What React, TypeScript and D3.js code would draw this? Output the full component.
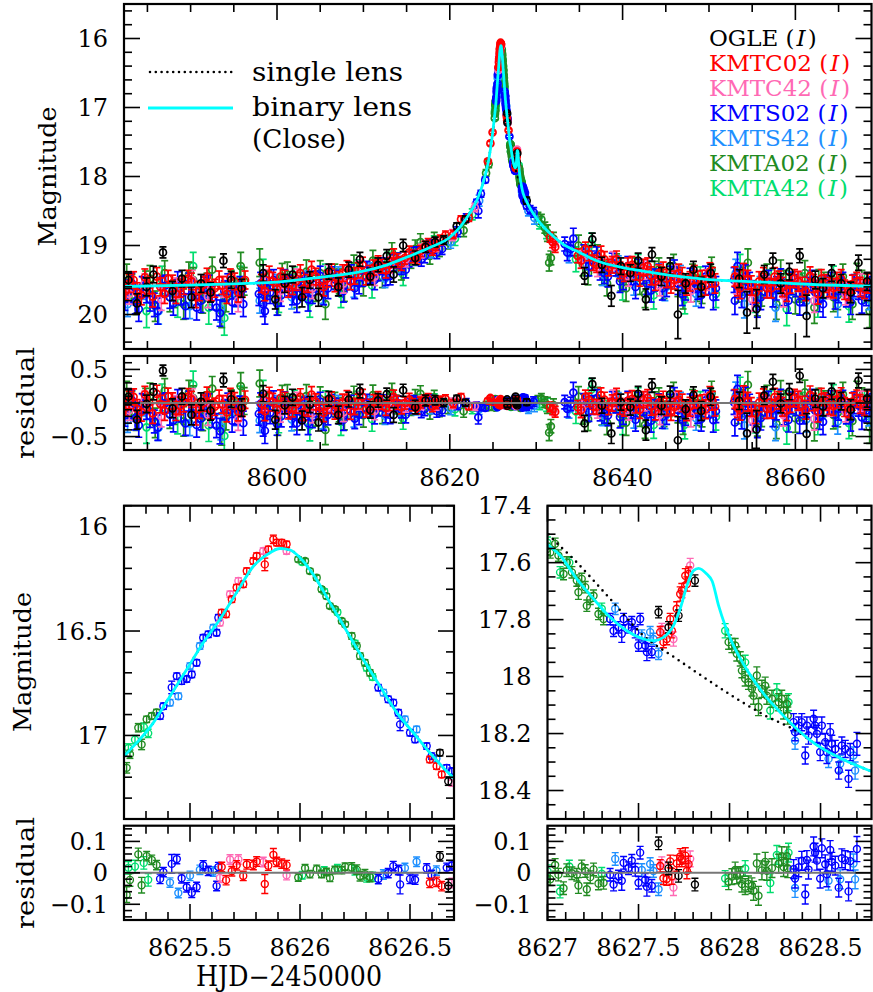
import React, { useRef, useEffect } from "react";
import * as d3 from "d3";

// [HJD-2450000, I magnitude, error]
const ogle = [
  [8582.8, 19.5, 0.12], [8583.8, 19.84, 0.14], [8584.9, 19.6, 0.13], [8585.7, 19.42, 0.12], [8586.8, 19.1, 0.08],
  [8587.9, 19.66, 0.14], [8589.0, 19.48, 0.12], [8590.1, 19.75, 0.15], [8591.2, 19.55, 0.13], [8592.3, 19.68, 0.14],
  [8593.8, 19.22, 0.1], [8594.7, 19.5, 0.12], [8595.9, 19.62, 0.13], [8598.4, 19.4, 0.12], [8599.8, 19.78, 0.14],
  [8600.9, 19.55, 0.13], [8601.8, 19.42, 0.12], [8602.9, 19.75, 0.14], [8603.8, 19.5, 0.12], [8604.8, 19.75, 0.13],
  [8606.0, 19.38, 0.11], [8607.1, 19.6, 0.13], [8608.3, 19.35, 0.11], [8609.6, 19.2, 0.1], [8610.8, 19.45, 0.12],
  [8611.7, 19.28, 0.1], [8612.7, 19.15, 0.09], [8613.5, 19.42, 0.11], [8614.6, 19.0, 0.09], [8616.0, 19.18, 0.1],
  [8617.2, 19.02, 0.08], [8618.3, 18.95, 0.07], [8619.3, 18.92, 0.06], [8620.8, 18.72, 0.05], [8621.8, 18.62, 0.05],
  [8626.636, 17.083, 0.015], [8626.674, 17.219, 0.02], [8627.61, 17.774, 0.02], [8627.665, 17.827, 0.02],
  [8627.72, 17.786, 0.02], [8627.81, 17.663, 0.02], [8628.9, 18.35, 0.05],
  [8635.6, 19.44, 0.12], [8636.5, 18.91, 0.09], [8637.6, 19.28, 0.11], [8638.7, 19.73, 0.15], [8639.8, 19.3, 0.12],
  [8640.9, 19.4, 0.12], [8641.8, 19.22, 0.11], [8642.7, 19.78, 0.15], [8643.4, 19.13, 0.1], [8644.5, 19.45, 0.13],
  [8645.5, 19.3, 0.12], [8646.4, 20.0, 0.35], [8647.3, 19.55, 0.14], [8648.2, 19.35, 0.12], [8649.1, 19.6, 0.14],
  [8650.2, 19.4, 0.13], [8653.5, 19.48, 0.13], [8654.4, 19.97, 0.3], [8655.5, 19.92, 0.28], [8656.4, 19.42, 0.13],
  [8657.4, 19.22, 0.11], [8658.3, 19.55, 0.14], [8659.3, 19.38, 0.12], [8660.5, 19.15, 0.1], [8661.3, 20.02, 0.3],
  [8662.3, 19.5, 0.13], [8663.2, 19.62, 0.14], [8664.2, 19.4, 0.12], [8665.3, 19.55, 0.13], [8666.4, 19.68, 0.15],
  [8667.3, 19.25, 0.11], [8668.3, 19.52, 0.13],
];

const kmtc02 = [
  [8582.5, 19.66, 0.13], [8582.9, 19.55, 0.13], [8583.4, 19.5, 0.12], [8583.8, 19.68, 0.14], [8584.3, 19.72, 0.14],
  [8584.7, 19.46, 0.12], [8585.2, 19.58, 0.12], [8585.6, 19.74, 0.15], [8586.1, 19.45, 0.13], [8586.5, 19.6, 0.13],
  [8587.0, 19.7, 0.14], [8587.4, 19.48, 0.12], [8587.9, 19.55, 0.12], [8588.3, 19.7, 0.14], [8588.8, 19.62, 0.13],
  [8589.2, 19.58, 0.13], [8589.7, 19.48, 0.12], [8590.1, 19.52, 0.12], [8590.6, 19.75, 0.15], [8591.0, 19.66, 0.14],
  [8591.5, 19.57, 0.12], [8591.9, 19.45, 0.12], [8592.4, 19.66, 0.14], [8592.8, 19.62, 0.13], [8593.3, 19.5, 0.13],
  [8593.7, 19.58, 0.13], [8594.2, 19.7, 0.14], [8594.6, 19.46, 0.12], [8595.1, 19.52, 0.12], [8595.5, 19.68, 0.14],
  [8596.0, 19.62, 0.13], [8596.3, 19.5, 0.13], [8598.2, 19.55, 0.13], [8598.6, 19.66, 0.14], [8599.1, 19.42, 0.12],
  [8599.5, 19.52, 0.13], [8600.0, 19.63, 0.13], [8600.4, 19.45, 0.12], [8600.9, 19.48, 0.12], [8601.3, 19.62, 0.13],
  [8601.8, 19.58, 0.13], [8602.2, 19.52, 0.13], [8602.7, 19.4, 0.12], [8603.1, 19.62, 0.13], [8603.6, 19.55, 0.13],
  [8604.0, 19.35, 0.12], [8604.5, 19.45, 0.12], [8604.9, 19.58, 0.13], [8605.4, 19.6, 0.13], [8605.8, 19.48, 0.12],
  [8606.3, 19.38, 0.11], [8606.7, 19.55, 0.12], [8607.2, 19.5, 0.12], [8607.6, 19.4, 0.12], [8608.1, 19.33, 0.11],
  [8608.5, 19.52, 0.12], [8609.0, 19.44, 0.12], [8609.4, 19.36, 0.11], [8609.9, 19.28, 0.11], [8610.3, 19.46, 0.11],
  [8610.8, 19.4, 0.11], [8611.2, 19.32, 0.11], [8611.7, 19.25, 0.1], [8612.1, 19.3, 0.1], [8612.6, 19.36, 0.11],
  [8613.0, 19.28, 0.1], [8613.5, 19.15, 0.1], [8613.9, 19.22, 0.1], [8614.4, 19.26, 0.1], [8614.8, 19.18, 0.09],
  [8615.3, 19.1, 0.09], [8615.7, 19.16, 0.09], [8616.2, 19.18, 0.09], [8616.6, 19.08, 0.08], [8617.1, 19.02, 0.08],
  [8617.5, 18.98, 0.08], [8618.0, 19.06, 0.08], [8618.4, 19.0, 0.07], [8618.9, 18.92, 0.07],
  [8619.5, 18.85, 0.06], [8620.4, 18.84, 0.06], [8621.3, 18.62, 0.05], [8622.2, 18.6, 0.05], [8624.4, 17.78, 0.03],
  [8624.7, 17.52, 0.03], [8624.95, 17.36, 0.02],
  [8625.644, 16.412, 0.015], [8625.664, 16.42, 0.015], [8625.69, 16.348, 0.015], [8625.712, 16.292, 0.015],
  [8625.742, 16.276, 0.015], [8625.758, 16.213, 0.015], [8625.788, 16.165, 0.015], [8625.803, 16.141, 0.015],
  [8625.84, 16.181, 0.03], [8625.856, 16.109, 0.015], [8625.879, 16.061, 0.02], [8625.894, 16.077, 0.015],
  [8625.917, 16.077, 0.015], [8625.939, 16.085, 0.015], [8626.59, 17.115, 0.015], [8626.621, 17.147, 0.015],
  [8626.644, 17.187, 0.015], [8626.8, 17.33, 0.02],
  [8627.619, 17.844, 0.02], [8627.637, 17.879, 0.02], [8627.655, 17.868, 0.02], [8627.674, 17.798, 0.02],
  [8627.683, 17.839, 0.025], [8627.71, 17.762, 0.025], [8627.729, 17.71, 0.025], [8627.738, 17.698, 0.025],
  [8627.757, 17.646, 0.025], [8627.766, 17.675, 0.025], [8627.775, 17.64, 0.025],
  [8631.6, 18.88, 0.07], [8631.9, 18.95, 0.08], [8632.2, 19.02, 0.08], [8634.8, 19.15, 0.1], [8635.2, 19.22, 0.11],
  [8635.7, 19.05, 0.1], [8636.1, 19.12, 0.1], [8636.6, 19.25, 0.11], [8637.0, 19.28, 0.11], [8637.5, 19.12, 0.11],
  [8637.9, 19.2, 0.11], [8638.4, 19.32, 0.12], [8638.8, 19.28, 0.12], [8639.3, 19.2, 0.12], [8639.7, 19.36, 0.12],
  [8640.2, 19.4, 0.12], [8640.6, 19.3, 0.12], [8641.1, 19.28, 0.12], [8641.5, 19.38, 0.12], [8642.0, 19.46, 0.13],
  [8642.4, 19.32, 0.12], [8642.9, 19.3, 0.12], [8643.3, 19.44, 0.13], [8643.8, 19.52, 0.13], [8644.2, 19.4, 0.12],
  [8644.7, 19.36, 0.12], [8645.1, 19.48, 0.13], [8645.6, 19.55, 0.14], [8646.0, 19.5, 0.13], [8646.5, 19.4, 0.13],
  [8646.9, 19.45, 0.13], [8647.4, 19.58, 0.14], [8647.8, 19.52, 0.14], [8648.3, 19.42, 0.13], [8648.7, 19.5, 0.13],
  [8649.2, 19.5, 0.14], [8649.6, 19.58, 0.14], [8650.1, 19.38, 0.13], [8650.4, 19.46, 0.14], [8650.7, 19.55, 0.14],
  [8653.0, 19.45, 0.14], [8653.3, 19.58, 0.15], [8653.6, 19.62, 0.15], [8654.0, 19.4, 0.14], [8654.5, 19.5, 0.14],
  [8654.9, 19.58, 0.14], [8655.4, 19.68, 0.15], [8655.8, 19.52, 0.14], [8656.3, 19.45, 0.13], [8656.7, 19.62, 0.14],
  [8657.2, 19.62, 0.14], [8657.6, 19.45, 0.13], [8658.1, 19.5, 0.13], [8658.5, 19.6, 0.14], [8659.0, 19.66, 0.15],
  [8659.4, 19.55, 0.14], [8659.9, 19.48, 0.13], [8660.3, 19.52, 0.14], [8660.8, 19.6, 0.14], [8661.2, 19.66, 0.14],
  [8661.7, 19.44, 0.13], [8662.1, 19.55, 0.13], [8662.6, 19.7, 0.15], [8663.0, 19.48, 0.13], [8663.5, 19.55, 0.13],
  [8663.9, 19.6, 0.14], [8664.4, 19.62, 0.14], [8664.8, 19.52, 0.13], [8665.3, 19.48, 0.13], [8665.7, 19.64, 0.14],
  [8666.2, 19.66, 0.14], [8666.6, 19.56, 0.13], [8667.1, 19.52, 0.13], [8667.5, 19.6, 0.14], [8668.0, 19.63, 0.14],
  [8668.4, 19.55, 0.14],
];

const kmtc42 = [
  [8582.9, 19.7, 0.15], [8584.7, 19.55, 0.14], [8586.6, 19.78, 0.16], [8588.4, 19.62, 0.15], [8590.2, 19.5, 0.14],
  [8592.0, 19.74, 0.16], [8593.8, 19.6, 0.15], [8595.5, 19.8, 0.16], [8598.6, 19.5, 0.15], [8600.4, 19.66, 0.15],
  [8602.3, 19.48, 0.14], [8604.1, 19.62, 0.15], [8605.9, 19.42, 0.14], [8607.7, 19.55, 0.14], [8609.5, 19.35, 0.13],
  [8611.3, 19.45, 0.13], [8613.1, 19.28, 0.12], [8614.9, 19.2, 0.11], [8616.7, 19.08, 0.1], [8618.4, 19.0, 0.09],
  [8620.3, 18.85, 0.08], [8622.9, 18.45, 0.06],
  [8625.636, 16.46, 0.015], [8625.682, 16.324, 0.015], [8625.72, 16.26, 0.015], [8625.833, 16.117, 0.015],
  [8625.939, 16.117, 0.015], [8626.69, 17.227, 0.015],
  [8627.628, 17.833, 0.02], [8627.692, 17.868, 0.025], [8627.784, 17.61, 0.025],
  [8632.1, 18.98, 0.09], [8635.3, 19.2, 0.12], [8637.1, 19.32, 0.13], [8638.9, 19.22, 0.13], [8640.7, 19.45, 0.14],
  [8642.5, 19.35, 0.14], [8644.3, 19.58, 0.15], [8646.1, 19.42, 0.14], [8647.9, 19.66, 0.16], [8649.7, 19.5, 0.15],
  [8653.2, 19.55, 0.15], [8655.0, 19.78, 0.17], [8656.8, 19.6, 0.15], [8658.6, 19.72, 0.17], [8660.4, 19.52, 0.15],
  [8662.2, 19.8, 0.17], [8664.0, 19.62, 0.15], [8665.8, 19.7, 0.16], [8667.6, 19.56, 0.15],
];

const kmts02 = [
  [8582.4, 19.78, 0.16], [8582.8, 19.66, 0.16], [8583.2, 19.55, 0.15], [8583.6, 19.82, 0.17], [8584.0, 19.92, 0.18],
  [8584.4, 19.6, 0.15], [8584.9, 19.68, 0.15], [8585.3, 19.78, 0.17], [8585.8, 19.86, 0.17], [8586.2, 19.95, 0.19],
  [8586.7, 19.6, 0.15], [8587.1, 19.58, 0.15], [8587.6, 19.75, 0.16], [8588.0, 19.84, 0.17], [8588.5, 19.52, 0.14],
  [8588.9, 19.7, 0.16], [8589.4, 19.88, 0.18], [8589.8, 19.55, 0.15], [8590.3, 19.64, 0.15], [8590.7, 19.9, 0.18],
  [8591.2, 19.8, 0.17], [8591.6, 19.62, 0.16], [8592.1, 19.58, 0.15], [8592.5, 19.76, 0.17], [8593.0, 19.9, 0.18],
  [8593.4, 19.98, 0.19], [8593.9, 19.66, 0.15], [8594.3, 19.56, 0.15], [8594.8, 19.82, 0.17], [8595.2, 19.72, 0.16],
  [8595.7, 19.6, 0.15], [8596.1, 19.85, 0.18], [8597.9, 19.7, 0.17], [8598.1, 19.55, 0.16], [8598.4, 19.85, 0.18],
  [8598.6, 19.95, 0.19], [8598.8, 19.62, 0.16], [8599.2, 19.68, 0.16], [8599.6, 19.5, 0.15], [8600.0, 19.84, 0.17],
  [8600.5, 19.72, 0.16], [8600.9, 19.5, 0.15], [8601.4, 19.58, 0.15], [8601.8, 19.7, 0.16], [8602.3, 19.8, 0.17],
  [8602.7, 19.62, 0.16], [8603.2, 19.55, 0.15], [8603.6, 19.78, 0.17], [8604.1, 19.68, 0.16], [8604.5, 19.52, 0.15],
  [8605.0, 19.44, 0.14], [8605.4, 19.7, 0.16], [8605.9, 19.62, 0.15], [8606.3, 19.45, 0.14], [8606.8, 19.5, 0.14],
  [8607.2, 19.58, 0.15], [8607.7, 19.66, 0.16], [8608.1, 19.5, 0.14], [8608.6, 19.42, 0.14], [8609.0, 19.62, 0.15],
  [8609.5, 19.55, 0.15], [8609.9, 19.45, 0.14], [8610.4, 19.36, 0.13], [8610.8, 19.42, 0.13], [8611.3, 19.5, 0.14],
  [8611.7, 19.38, 0.13], [8612.2, 19.3, 0.12], [8612.6, 19.45, 0.13], [8613.1, 19.44, 0.13], [8613.5, 19.25, 0.12],
  [8614.0, 19.22, 0.11], [8614.4, 19.3, 0.12], [8614.9, 19.35, 0.12], [8615.3, 19.2, 0.11], [8615.8, 19.12, 0.1],
  [8616.2, 19.12, 0.1], [8616.7, 19.2, 0.1], [8617.1, 19.15, 0.1], [8617.6, 19.0, 0.09], [8618.0, 19.02, 0.09],
  [8618.5, 19.1, 0.09], [8619.1, 19.05, 0.08], [8620.9, 18.8, 0.07], [8621.9, 18.6, 0.06], [8623.1, 18.38, 0.05],
  [8623.3, 18.5, 0.1], [8623.6, 18.25, 0.05], [8624.1, 18.05, 0.04],
  [8625.364, 16.907, 0.015], [8625.379, 16.86, 0.015], [8625.417, 16.77, 0.03], [8625.44, 16.716, 0.015],
  [8625.462, 16.74, 0.015], [8625.485, 16.73, 0.015], [8625.508, 16.708, 0.015], [8625.53, 16.652, 0.015],
  [8625.56, 16.532, 0.015], [8625.583, 16.516, 0.015], [8625.621, 16.508, 0.015], [8625.629, 16.436, 0.015],
  [8626.356, 16.771, 0.015], [8626.401, 16.827, 0.015], [8626.424, 16.843, 0.015], [8626.447, 16.891, 0.015],
  [8626.455, 16.947, 0.03], [8626.5, 16.987, 0.015], [8626.523, 17.019, 0.015], [8626.576, 17.051, 0.015],
  [8626.598, 17.099, 0.015], [8626.667, 17.155, 0.015], [8626.69, 17.171, 0.015], [8626.9, 17.42, 0.02],
  [8627.344, 17.798, 0.02], [8627.363, 17.839, 0.02], [8627.39, 17.827, 0.02], [8627.408, 17.85, 0.03],
  [8627.418, 17.798, 0.02], [8627.445, 17.827, 0.02], [8627.463, 17.809, 0.02], [8627.482, 17.844, 0.02],
  [8627.5, 17.891, 0.02], [8627.509, 17.798, 0.02], [8627.537, 17.891, 0.02], [8627.546, 17.914, 0.03],
  [8627.573, 17.914, 0.02],
  [8628.352, 18.16, 0.03], [8628.36, 18.195, 0.03], [8628.38, 18.172, 0.03], [8628.397, 18.16, 0.03],
  [8628.416, 18.277, 0.03], [8628.425, 18.172, 0.03], [8628.434, 18.207, 0.03], [8628.462, 18.148, 0.03],
  [8628.47, 18.172, 0.03], [8628.48, 18.201, 0.03], [8628.498, 18.265, 0.03], [8628.507, 18.172, 0.03],
  [8628.526, 18.23, 0.03], [8628.535, 18.265, 0.04], [8628.553, 18.195, 0.03], [8628.562, 18.236, 0.03],
  [8628.581, 18.254, 0.03], [8628.6, 18.33, 0.03], [8628.617, 18.242, 0.03], [8628.636, 18.254, 0.03],
  [8628.654, 18.359, 0.03], [8628.663, 18.265, 0.03], [8628.7, 18.236, 0.04],
  [8628.9, 18.42, 0.05], [8629.3, 18.48, 0.06], [8629.7, 18.52, 0.07], [8633.3, 18.98, 0.1], [8633.6, 19.1, 0.12],
  [8634.0, 19.05, 0.1], [8634.3, 18.9, 0.15], [8635.5, 19.12, 0.13], [8636.1, 19.3, 0.14], [8636.5, 19.22, 0.14],
  [8637.0, 19.15, 0.13], [8637.4, 19.35, 0.15], [8637.9, 19.4, 0.15], [8638.3, 19.45, 0.15], [8638.8, 19.25, 0.14],
  [8639.2, 19.3, 0.14], [8639.7, 19.52, 0.16], [8640.1, 19.48, 0.16], [8640.6, 19.3, 0.14], [8641.0, 19.42, 0.15],
  [8641.5, 19.6, 0.17], [8641.9, 19.35, 0.15], [8642.4, 19.4, 0.15], [8642.8, 19.55, 0.16], [8643.3, 19.65, 0.17],
  [8643.7, 19.5, 0.16], [8644.2, 19.42, 0.15], [8644.6, 19.62, 0.17], [8645.1, 19.58, 0.16], [8645.5, 19.45, 0.15],
  [8646.0, 19.35, 0.14], [8646.4, 19.55, 0.16], [8646.9, 19.7, 0.17], [8647.3, 19.62, 0.17], [8647.8, 19.48, 0.15],
  [8648.2, 19.52, 0.16], [8648.7, 19.62, 0.16], [8649.1, 19.72, 0.18], [8649.6, 19.45, 0.15], [8650.0, 19.55, 0.16],
  [8650.5, 19.75, 0.18], [8650.8, 19.62, 0.17], [8652.9, 19.5, 0.18], [8653.0, 19.8, 0.2], [8653.3, 19.3, 0.2],
  [8653.8, 19.72, 0.18], [8654.2, 19.45, 0.17], [8654.7, 19.55, 0.16], [8655.1, 19.68, 0.17], [8655.6, 19.85, 0.19],
  [8656.0, 19.75, 0.18], [8656.5, 19.6, 0.16], [8656.9, 19.52, 0.16], [8657.4, 19.72, 0.17], [8657.8, 19.62, 0.17],
  [8658.3, 19.5, 0.16], [8658.7, 19.7, 0.17], [8659.2, 19.8, 0.18], [8659.6, 19.55, 0.16], [8660.1, 19.58, 0.16],
  [8660.5, 19.82, 0.19], [8661.0, 19.7, 0.17], [8661.4, 19.62, 0.16], [8661.9, 19.52, 0.16], [8662.3, 19.68, 0.17],
  [8662.8, 19.78, 0.18], [8663.2, 19.85, 0.19], [8663.7, 19.6, 0.16], [8664.1, 19.55, 0.16], [8664.6, 19.75, 0.17],
  [8665.0, 19.66, 0.17], [8665.5, 19.55, 0.16], [8665.9, 19.72, 0.17], [8666.4, 19.82, 0.18], [8666.8, 19.58, 0.16],
  [8667.3, 19.62, 0.16], [8667.7, 19.8, 0.18], [8668.2, 19.7, 0.17], [8668.6, 19.62, 0.17],
];

const kmts42 = [
  [8582.7, 19.85, 0.18], [8584.5, 19.62, 0.16], [8586.3, 19.95, 0.19], [8588.1, 19.7, 0.17], [8589.9, 19.88, 0.18],
  [8591.7, 19.6, 0.16], [8593.5, 19.92, 0.19], [8595.3, 19.72, 0.17], [8598.0, 19.8, 0.18], [8599.9, 19.58, 0.16],
  [8601.7, 19.75, 0.17], [8603.5, 19.52, 0.15], [8605.3, 19.68, 0.16], [8607.1, 19.45, 0.14], [8608.9, 19.6, 0.15],
  [8610.7, 19.38, 0.13], [8612.5, 19.48, 0.13], [8614.3, 19.28, 0.12], [8616.1, 19.18, 0.11], [8617.9, 19.08, 0.1],
  [8620.1, 18.95, 0.09], [8623.4, 18.35, 0.08],
  [8625.409, 16.843, 0.015], [8625.447, 16.812, 0.015], [8625.5, 16.668, 0.015], [8625.545, 16.572, 0.015],
  [8625.606, 16.484, 0.015], [8626.379, 16.795, 0.015], [8626.477, 16.923, 0.015], [8626.53, 16.971, 0.015],
  [8626.62, 17.11, 0.015],
  [8627.372, 17.762, 0.02], [8627.518, 17.856, 0.02], [8627.564, 17.844, 0.02], [8627.582, 17.868, 0.02],
  [8627.61, 17.92, 0.02], [8628.36, 18.225, 0.03], [8628.544, 18.289, 0.03], [8628.608, 18.306, 0.03],
  [8628.681, 18.277, 0.03], [8628.69, 18.33, 0.03],
  [8629.1, 18.5, 0.07], [8629.8, 18.6, 0.09], [8633.8, 19.12, 0.13], [8635.9, 19.2, 0.15], [8637.7, 19.42, 0.16],
  [8639.5, 19.3, 0.15], [8641.3, 19.55, 0.17], [8643.1, 19.38, 0.16], [8644.9, 19.62, 0.18], [8646.7, 19.45, 0.16],
  [8648.5, 19.7, 0.18], [8650.3, 19.52, 0.17], [8653.1, 19.4, 0.2], [8654.1, 19.85, 0.2], [8655.9, 19.62, 0.17],
  [8657.7, 19.9, 0.2], [8659.5, 19.55, 0.17], [8661.3, 19.8, 0.19], [8663.1, 19.62, 0.17], [8664.9, 19.85, 0.19],
  [8666.7, 19.6, 0.17], [8668.5, 19.75, 0.18],
];

const kmta02 = [
  [8582.6, 19.45, 0.18], [8583.2, 19.62, 0.2], [8583.7, 19.8, 0.2], [8584.8, 19.55, 0.18], [8585.3, 19.48, 0.19],
  [8585.9, 19.88, 0.22], [8587.0, 19.4, 0.18], [8587.6, 19.75, 0.21], [8588.1, 19.7, 0.2], [8589.2, 19.85, 0.22],
  [8589.8, 19.42, 0.18], [8590.3, 19.5, 0.18], [8591.4, 19.78, 0.2], [8591.9, 19.6, 0.2], [8592.5, 19.35, 0.18],
  [8593.6, 19.95, 0.24], [8594.1, 19.75, 0.21], [8594.7, 19.55, 0.19], [8595.8, 19.3, 0.2], [8596.2, 19.52, 0.2],
  [8598.0, 19.25, 0.2], [8598.5, 19.6, 0.2], [8599.0, 19.55, 0.19], [8600.1, 19.8, 0.21], [8600.6, 19.45, 0.19],
  [8601.2, 19.42, 0.18], [8602.3, 19.7, 0.2], [8602.8, 19.58, 0.19], [8603.4, 19.38, 0.17], [8604.5, 19.62, 0.19],
  [8605.0, 19.4, 0.18], [8605.6, 19.85, 0.22], [8606.7, 19.45, 0.18], [8607.2, 19.52, 0.18], [8607.8, 19.62, 0.19],
  [8608.9, 19.3, 0.16], [8609.4, 19.42, 0.17], [8610.0, 19.55, 0.18], [8611.1, 19.22, 0.15], [8611.6, 19.35, 0.16],
  [8612.2, 19.45, 0.16], [8613.3, 19.1, 0.14], [8613.8, 19.25, 0.14], [8614.4, 19.35, 0.15], [8615.5, 19.2, 0.13],
  [8616.0, 19.05, 0.13], [8616.6, 18.95, 0.12], [8617.7, 19.15, 0.12], [8618.2, 18.92, 0.11], [8618.8, 19.05, 0.11],
  [8619.8, 18.95, 0.1], [8621.6, 18.78, 0.09], [8624.2, 17.95, 0.05], [8624.5, 17.82, 0.05],
  [8625.212, 17.155, 0.025], [8625.227, 17.09, 0.02], [8625.265, 16.963, 0.02], [8625.28, 17.043, 0.025],
  [8625.303, 16.923, 0.015], [8625.326, 16.907, 0.015], [8625.348, 16.89, 0.015],
  [8625.992, 16.157, 0.012], [8626.023, 16.165, 0.012], [8626.045, 16.213, 0.012], [8626.076, 16.245, 0.012],
  [8626.098, 16.3, 0.012], [8626.12, 16.333, 0.012], [8626.136, 16.38, 0.012], [8626.159, 16.396, 0.012],
  [8626.19, 16.452, 0.012], [8626.205, 16.468, 0.012], [8626.235, 16.524, 0.015], [8626.258, 16.572, 0.015],
  [8626.273, 16.62, 0.015], [8626.295, 16.652, 0.015], [8626.318, 16.7, 0.015],
  [8626.996, 17.552, 0.02], [8627.015, 17.564, 0.02], [8627.042, 17.534, 0.02], [8627.06, 17.575, 0.02],
  [8627.088, 17.64, 0.02], [8627.106, 17.599, 0.02], [8627.134, 17.634, 0.02], [8627.161, 17.663, 0.02],
  [8627.17, 17.704, 0.025], [8627.188, 17.657, 0.02], [8627.207, 17.686, 0.02], [8627.216, 17.751, 0.02],
  [8627.235, 17.727, 0.02], [8627.253, 17.716, 0.02], [8627.28, 17.78, 0.02], [8627.308, 17.798, 0.02],
  [8627.995, 17.879, 0.025], [8628.013, 17.891, 0.025], [8628.031, 17.891, 0.025], [8628.04, 17.92, 0.025],
  [8628.059, 17.938, 0.025], [8628.068, 17.979, 0.025], [8628.086, 18.008, 0.025], [8628.104, 18.02, 0.025],
  [8628.123, 18.043, 0.025], [8628.132, 18.067, 0.03], [8628.15, 17.996, 0.03], [8628.159, 18.107, 0.03],
  [8628.178, 18.043, 0.03], [8628.196, 18.032, 0.03], [8628.205, 18.067, 0.03], [8628.233, 18.078, 0.03],
  [8628.27, 18.09, 0.03], [8628.287, 18.078, 0.03], [8628.297, 18.119, 0.03], [8628.315, 18.096, 0.03],
  [8628.32, 18.137, 0.03],
  [8630.2, 18.58, 0.06], [8630.6, 18.62, 0.07], [8631.0, 18.74, 0.08], [8631.3, 18.82, 0.12], [8631.5, 19.25, 0.12],
  [8631.7, 19.18, 0.1], [8632.0, 18.9, 0.09], [8634.9, 19.0, 0.15], [8635.4, 19.28, 0.16], [8636.0, 19.4, 0.17],
  [8637.1, 19.15, 0.16], [8637.6, 19.4, 0.17], [8638.2, 19.55, 0.18], [8639.3, 19.28, 0.16], [8639.8, 19.48, 0.18],
  [8640.4, 19.62, 0.19], [8641.5, 19.35, 0.17], [8642.0, 19.52, 0.19], [8642.6, 19.7, 0.2], [8643.7, 19.4, 0.17],
  [8644.2, 19.35, 0.17], [8644.8, 19.58, 0.19], [8645.9, 19.3, 0.17], [8646.4, 19.55, 0.19], [8647.0, 19.72, 0.2],
  [8648.1, 19.45, 0.18], [8648.6, 19.62, 0.19], [8649.2, 19.65, 0.19], [8650.3, 19.35, 0.18], [8653.4, 19.6, 0.22],
  [8653.9, 19.52, 0.2], [8654.5, 19.25, 0.2], [8655.6, 19.8, 0.22], [8656.1, 19.68, 0.2], [8656.7, 19.45, 0.18],
  [8657.8, 19.85, 0.22], [8658.3, 19.4, 0.19], [8658.9, 19.55, 0.19], [8660.0, 19.78, 0.21], [8660.5, 19.62, 0.2],
  [8661.1, 19.4, 0.18], [8662.2, 19.9, 0.23], [8662.7, 19.55, 0.2], [8663.3, 19.58, 0.19], [8664.4, 19.75, 0.21],
  [8664.9, 19.72, 0.21], [8665.5, 19.45, 0.18], [8666.6, 19.85, 0.22], [8667.1, 19.45, 0.19], [8667.7, 19.55, 0.19],
  [8668.6, 19.95, 0.24],
];

const kmta42 = [
  [8583.1, 19.6, 0.2], [8584.9, 19.95, 0.24], [8586.7, 19.5, 0.2], [8588.5, 19.82, 0.22], [8590.3, 19.3, 0.2],
  [8592.1, 19.9, 0.24], [8593.9, 20.05, 0.25], [8595.7, 19.5, 0.2], [8598.4, 19.4, 0.2], [8600.2, 19.75, 0.22],
  [8602.0, 19.5, 0.19], [8603.8, 19.82, 0.22], [8605.6, 19.45, 0.18], [8607.4, 19.7, 0.2], [8609.2, 19.38, 0.17],
  [8611.0, 19.58, 0.18], [8612.8, 19.25, 0.15], [8614.6, 19.42, 0.16], [8616.4, 19.1, 0.13], [8618.2, 18.98, 0.12],
  [8620.6, 18.9, 0.1], [8622.6, 18.55, 0.08],
  [8625.22, 17.06, 0.02], [8625.25, 17.02, 0.02], [8625.29, 16.96, 0.02], [8625.31, 16.99, 0.02],
  [8626.01, 16.17, 0.012], [8626.11, 16.31, 0.012], [8626.17, 16.41, 0.012], [8626.25, 16.56, 0.015],
  [8626.303, 16.676, 0.015], [8626.33, 16.72, 0.015],
  [8627.0, 17.53, 0.02], [8627.069, 17.634, 0.02], [8627.12, 17.6, 0.02], [8627.298, 17.762, 0.02],
  [8627.976, 17.839, 0.025], [8628.086, 17.95, 0.025], [8628.224, 18.119, 0.03], [8628.26, 18.055, 0.03],
  [8628.324, 18.09, 0.03],
  [8630.4, 18.68, 0.08], [8631.2, 18.8, 0.1], [8634.6, 19.2, 0.18], [8636.4, 18.98, 0.16], [8638.2, 19.4, 0.18],
  [8640.0, 19.6, 0.19], [8641.8, 19.3, 0.17], [8643.6, 19.72, 0.2], [8645.4, 19.45, 0.18], [8647.2, 19.78, 0.21],
  [8649.0, 19.5, 0.19], [8650.8, 19.7, 0.2], [8653.6, 19.35, 0.22], [8655.4, 19.75, 0.22], [8657.2, 19.55, 0.2],
  [8659.0, 19.92, 0.24], [8660.8, 19.6, 0.2], [8662.6, 19.82, 0.22], [8664.4, 19.5, 0.2], [8666.2, 19.88, 0.23],
  [8668.0, 19.62, 0.21],
];

// model light curves [HJD-2450000, I magnitude]
const binaryLens = [
  [8582.29, 19.594], [8590, 19.575], [8595, 19.555], [8600, 19.53], [8605, 19.46], [8610, 19.37],
  [8612.3, 19.3], [8615, 19.17], [8617.7, 19.03], [8620, 18.88], [8621, 18.76], [8622, 18.59],
  [8622.8, 18.43], [8623.5, 18.23], [8624, 18.03], [8624.5, 17.76], [8624.9, 17.43], [8625.2, 17.1],
  [8625.333, 16.94], [8625.409, 16.812], [8625.485, 16.684], [8625.56, 16.556], [8625.636, 16.444],
  [8625.712, 16.316], [8625.788, 16.19], [8625.864, 16.125], [8625.909, 16.105], [8625.955, 16.112],
  [8626.0, 16.149], [8626.06, 16.229], [8626.136, 16.364], [8626.212, 16.5], [8626.288, 16.636],
  [8626.364, 16.765], [8626.44, 16.891], [8626.515, 16.987], [8626.59, 17.083], [8626.667, 17.171],
  [8626.705, 17.21], [8626.978, 17.523], [8627.07, 17.575], [8627.161, 17.657], [8627.253, 17.727],
  [8627.344, 17.792], [8627.436, 17.839], [8627.527, 17.868], [8627.582, 17.874], [8627.637, 17.862],
  [8627.692, 17.821], [8627.729, 17.762], [8627.766, 17.681], [8627.802, 17.628], [8627.83, 17.62],
  [8627.875, 17.64], [8627.905, 17.665], [8627.94, 17.751], [8627.976, 17.821], [8628.013, 17.879],
  [8628.104, 17.985], [8628.196, 18.067], [8628.287, 18.131], [8628.379, 18.189], [8628.47, 18.236],
  [8628.562, 18.271], [8628.654, 18.3], [8628.782, 18.333], [8629.2, 18.44], [8630, 18.6], [8631, 18.75],
  [8632, 18.87], [8633.1, 18.98], [8635, 19.1], [8637, 19.22], [8640, 19.32], [8642.4, 19.37],
  [8646, 19.44], [8649.7, 19.49], [8656.3, 19.53], [8662, 19.565], [8668.81, 19.59],
];

// where the single-lens curve departs from the binary one
const singleLensBump = [
  [8626.996, 17.493], [8627.161, 17.599], [8627.344, 17.727], [8627.527, 17.856], [8627.71, 17.938],
  [8627.83, 17.99], [8628.013, 18.067], [8628.196, 18.137], [8628.379, 18.195],
];

const names = ["OGLE", "KMTC02", "KMTC42", "KMTS02", "KMTS42", "KMTA02", "KMTA42"];
const colors = ["#000000", "#ff0000", "#ff69b4", "#0000ff", "#1e90ff", "#228b22", "#00dd6e"];
const series = [ogle, kmtc02, kmtc42, kmts02, kmts42, kmta02, kmta42];

const panels = [
  { key: "top", x: [124, 871.5], y: [4, 349], xd: [8582.29, 8668.81], yd: [15.5, 20.5], xt: [20, 5], yt: [1, 0.2], xLab: false, resid: false, sw: 1.7 },
  { key: "topRes", x: [124, 871.5], y: [356, 450], xd: [8582.29, 8668.81], yd: [0.7, -0.7], xt: [20, 5], yt: [0.5, 0.1], xLab: true, resid: true, sw: 1.7 },
  { key: "bl", x: [124, 454], y: [505.7, 819], xd: [8625.2, 8626.7], yd: [15.9, 17.4], xt: [0.5, 0.1], yt: [0.5, 0.1], xLab: false, resid: false, sw: 1.4 },
  { key: "blRes", x: [124, 454], y: [825.7, 920], xd: [8625.2, 8626.7], yd: [0.15, -0.15], xt: [0.5, 0.1], yt: [0.1, 0.02], xLab: true, resid: true, sw: 1.4 },
  { key: "br", x: [547.5, 871.5], y: [505.7, 819], xd: [8627, 8628.78], yd: [17.4, 18.5], xt: [0.5, 0.1], yt: [0.2, 0.05], xLab: false, resid: false, sw: 1.4 },
  { key: "brRes", x: [547.5, 871.5], y: [825.7, 920], xd: [8627, 8628.78], yd: [0.15, -0.15], xt: [0.5, 0.1], yt: [0.1, 0.02], xLab: true, resid: true, sw: 1.4 },
];

const FONT = "DejaVu Serif";

function ticksBetween(lo: number, hi: number, step: number) {
  const a = Math.ceil(Math.min(lo, hi) / step - 1e-6);
  const b = Math.floor(Math.max(lo, hi) / step + 1e-6);
  return d3.range(a, b + 1).map((k) => +(k * step).toFixed(6));
}
const isMult = (v: number, s: number) => Math.abs(v / s - Math.round(v / s)) < 1e-6;
const fmt = (v: number) => (v < 0 ? "\u2212" : "") + String(+Math.abs(v).toFixed(4));

const bis = d3.bisector((d: number[]) => d[0]).left;
function modelMag(t: number) {
  let i = bis(binaryLens, t);
  i = Math.max(1, Math.min(binaryLens.length - 1, i));
  const [t0, m0] = binaryLens[i - 1];
  const [t1, m1] = binaryLens[i];
  return m0 + ((m1 - m0) * (t - t0)) / (t1 - t0);
}

function App() {
  const svgRef = useRef<SVGSVGElement>(null);

  useEffect(() => {
    const svg = d3.select(svgRef.current);
    svg.selectAll("*").remove();
    const defs = svg.append("defs");

    const singleLens = binaryLens
      .filter((d) => d[0] <= 8626.71)
      .concat(singleLensBump)
      .concat(binaryLens.filter((d) => d[0] > 8628.4));

    panels.forEach((p) => {
      const xs = d3.scaleLinear().domain(p.xd).range(p.x);
      const ys = d3.scaleLinear().domain(p.yd).range(p.y);
      const [x0, x1] = p.x;
      const [y0, y1] = p.y;

      defs.append("clipPath").attr("id", "clip-" + p.key)
        .append("rect").attr("x", x0).attr("y", y0).attr("width", x1 - x0).attr("height", y1 - y0);

      const plot = svg.append("g").attr("clip-path", `url(#clip-${p.key})`);
      const val = (d: number[]) => (p.resid ? modelMag(d[0]) - d[1] : d[1]);

      // data, drawn from KMTA42 up to OGLE
      for (let k = series.length - 1; k >= 0; k--) {
        const pts = series[k].filter((d) => d[0] >= p.xd[0] - 0.2 && d[0] <= p.xd[1] + 0.2);
        const g = plot.append("g").attr("stroke", colors[k]).attr("fill", "none").attr("stroke-width", p.sw);
        const pt = g.selectAll("g").data(pts).join("g");
        pt.append("line")
          .attr("x1", (d) => xs(d[0])).attr("x2", (d) => xs(d[0]))
          .attr("y1", (d) => ys(val(d) - d[2])).attr("y2", (d) => ys(val(d) + d[2]));
        [-1, 1].forEach((s) => {
          pt.append("line")
            .attr("x1", (d) => xs(d[0]) - 3.5).attr("x2", (d) => xs(d[0]) + 3.5)
            .attr("y1", (d) => ys(val(d) + s * d[2])).attr("y2", (d) => ys(val(d) + s * d[2]));
        });
        pt.append("circle").attr("cx", (d) => xs(d[0])).attr("cy", (d) => ys(val(d))).attr("r", 3.5);
      }

      if (p.resid) {
        plot.append("line").attr("x1", x0).attr("x2", x1).attr("y1", ys(0)).attr("y2", ys(0))
          .attr("stroke", "#777").attr("stroke-width", 2);
      } else {
        const line = d3.line().x((d) => xs(d[0])).y((d) => ys(d[1])).curve(d3.curveMonotoneX);
        plot.append("path").attr("d", line(singleLens)).attr("fill", "none").attr("stroke", "#000")
          .attr("stroke-width", 2.6).attr("stroke-linecap", "round").attr("stroke-dasharray", "0 6.5");
        plot.append("path").attr("d", line(binaryLens)).attr("fill", "none").attr("stroke", "#00ffff")
          .attr("stroke-width", 2.8);
      }

      // ticks, inward on all four sides
      const ax = svg.append("g").attr("stroke", "#000").attr("stroke-width", 1.6);
      ticksBetween(p.xd[0], p.xd[1], p.xt[1]).forEach((v) => {
        const len = isMult(v, p.xt[0]) ? 16 : 8;
        const X = xs(v);
        ax.append("line").attr("x1", X).attr("x2", X).attr("y1", y1).attr("y2", y1 - len);
        ax.append("line").attr("x1", X).attr("x2", X).attr("y1", y0).attr("y2", y0 + len);
      });
      ticksBetween(p.yd[0], p.yd[1], p.yt[1]).forEach((v) => {
        const len = isMult(v, p.yt[0]) ? 16 : 8;
        const Y = ys(v);
        ax.append("line").attr("x1", x0).attr("x2", x0 + len).attr("y1", Y).attr("y2", Y);
        ax.append("line").attr("x1", x1).attr("x2", x1 - len).attr("y1", Y).attr("y2", Y);
      });
      svg.append("rect").attr("x", x0).attr("y", y0).attr("width", x1 - x0).attr("height", y1 - y0)
        .attr("fill", "none").attr("stroke", "#000").attr("stroke-width", 2.2);

      const lab = svg.append("g").attr("font-family", FONT).attr("font-size", 24).attr("fill", "#000");
      ticksBetween(p.yd[0], p.yd[1], p.yt[0]).forEach((v) => {
        lab.append("text").attr("x", x0 - 16).attr("y", ys(v)).attr("dy", "0.36em")
          .attr("text-anchor", "end").text(fmt(v));
      });
      if (p.xLab) {
        ticksBetween(p.xd[0], p.xd[1], p.xt[0]).forEach((v) => {
          lab.append("text").attr("x", xs(v)).attr("y", y1 + 27).attr("dy", "0.36em")
            .attr("text-anchor", "middle").text(fmt(v));
        });
      }
    });

    // axis titles
    const title = (x: number, y: number, s: string, len: number, rot: boolean, size = 25) =>
      svg.append("text").attr("font-family", FONT).attr("font-size", size).attr("text-anchor", "middle")
        .attr("transform", `translate(${x},${y})` + (rot ? " rotate(-90)" : ""))
        .attr("dy", "0.36em").attr("textLength", len).attr("lengthAdjust", "spacingAndGlyphs").text(s);
    title(47, 176.5, "Magnitude", 140, true);
    title(25, 403, "residual", 112, true);
    title(22, 662, "Magnitude", 140, true);
    title(25, 873, "residual", 112, true);
    title(289, 976, "HJD\u22122450000", 186, false, 27);

    // model legend
    const lg = svg.append("g");
    lg.append("line").attr("x1", 150).attr("x2", 233).attr("y1", 72).attr("y2", 72).attr("stroke", "#000")
      .attr("stroke-width", 2.6).attr("stroke-linecap", "round").attr("stroke-dasharray", "0 5.8");
    lg.append("line").attr("x1", 148).attr("x2", 233).attr("y1", 108).attr("y2", 108).attr("stroke", "#00ffff")
      .attr("stroke-width", 3);
    [["single lens", 81, 151], ["binary lens", 116, 160], ["(Close)", 148, 94]].forEach(([s, y, w]) => {
      lg.append("text").attr("x", 252).attr("y", y).attr("font-family", FONT).attr("font-size", 26)
        .attr("textLength", w).attr("lengthAdjust", "spacingAndGlyphs").text(s as string);
    });

    // data legend
    names.forEach((n, i) => {
      const t = svg.append("text").attr("x", 709).attr("y", 45.7 + i * 25).attr("font-family", FONT)
        .attr("font-size", 23).attr("fill", colors[i]);
      t.append("tspan").text(n + " (");
      t.append("tspan").attr("dx", 2).attr("font-style", "italic").text("I");
      t.append("tspan").attr("dx", 2).text(")");
    });
  }, []);

  return (
    <svg ref={svgRef} width={873} height={992} viewBox="0 0 873 992"
      style={{ position: "absolute", left: 0, top: 0, background: "#fff" }} />
  );
}

export default App;
